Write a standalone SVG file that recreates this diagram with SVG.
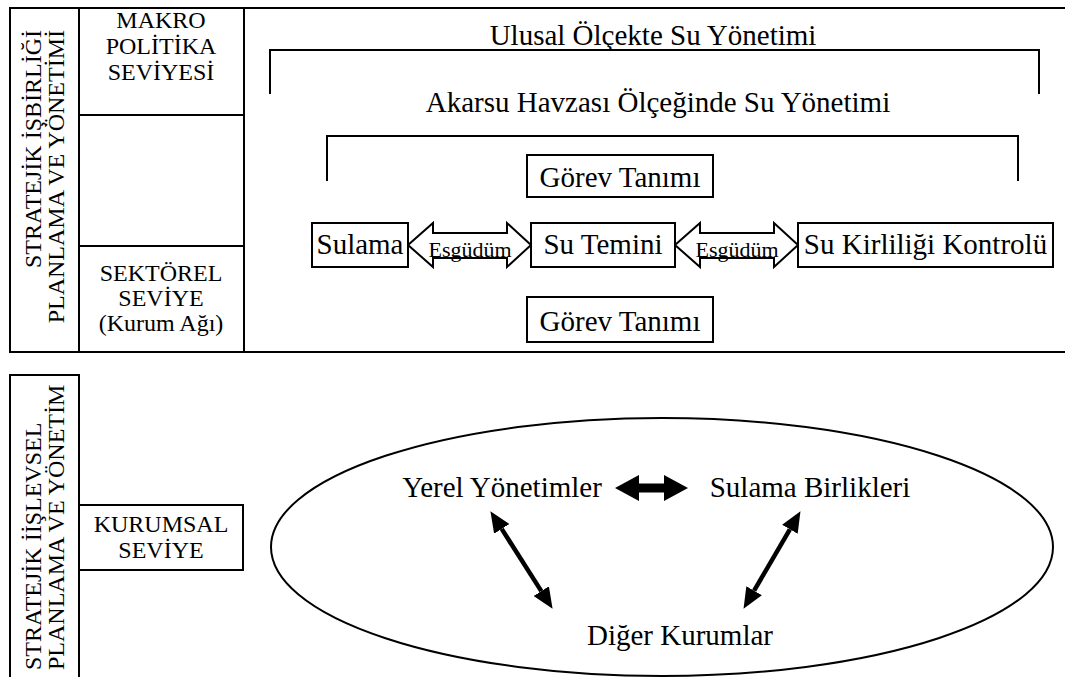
<svg xmlns="http://www.w3.org/2000/svg" width="1065" height="677" viewBox="0 0 1065 677">
<style>
text{font-family:"Liberation Serif","Times New Roman",serif;fill:#000}
.t29{font-size:29px}
.t24{font-size:24px}
.es{font-size:22px}
.mid{text-anchor:middle}
.ln{fill:none;stroke:#000;stroke-width:2}
.box{fill:#fff;stroke:#000;stroke-width:2}
.hollow{fill:#fff;stroke:#000;stroke-width:2;stroke-linejoin:miter}
.fat{fill:none;stroke:#000;stroke-width:4.5}
</style>
<defs>
<marker id="ah" markerUnits="userSpaceOnUse" markerWidth="22" markerHeight="18" refX="0" refY="9" orient="auto-start-reverse">
<path d="M0,0 L21,9 L0,18 z" fill="#000"/>
</marker>
</defs>

<g id="frame-top">
<rect x="10" y="8" width="1070" height="344" class="ln"/>
<line x1="79" y1="8" x2="79" y2="352" class="ln"/>
<line x1="244" y1="8" x2="244" y2="352" class="ln"/>
<line x1="79" y1="115" x2="244" y2="115" class="ln"/>
<line x1="79" y1="246" x2="244" y2="246" class="ln"/>
</g>

<g id="label-isbirligi">
<text class="t24" transform="translate(41,30) rotate(-90)" text-anchor="end">STRATEJİK İŞBİRLİĞİ</text>
<text class="t24" transform="translate(64,30) rotate(-90)" text-anchor="end">PLANLAMA VE YÖNETİMİ</text>
</g>

<g id="makro">
<text class="t24 mid" x="161" y="28">MAKRO</text>
<text class="t24 mid" x="161" y="54">POLİTİKA</text>
<text class="t24 mid" x="161" y="80">SEVİYESİ</text>
</g>

<g id="sektorel">
<text class="t24 mid" x="161" y="281">SEKTÖREL</text>
<text class="t24 mid" x="161" y="306">SEVİYE</text>
<text class="t24 mid" x="161" y="331">(Kurum Ağı)</text>
</g>

<g id="ulusal">
<text class="t29 mid" x="653" y="45">Ulusal Ölçekte Su Yönetimi</text>
<polyline points="270,94 270,50 1039,50 1039,94" class="ln"/>
</g>

<g id="akarsu">
<text class="t29 mid" x="658" y="112">Akarsu Havzası Ölçeğinde Su Yönetimi</text>
<polyline points="327,181 327,136 1018,136 1018,181" class="ln"/>
</g>

<g id="gorev-top">
<rect x="527" y="155" width="186" height="42" class="box"/>
<text class="t29 mid" x="620" y="187">Görev Tanımı</text>
</g>

<g id="connectors">
<polygon class="hollow" points="408,245 433,223 433,233 507,233 507,223 531,245 507,267 507,258 433,258 433,267"/>
<polygon class="hollow" points="675,245 700,223 700,233 774,233 774,223 798,245 774,267 774,258 700,258 700,267"/>
<polygon fill="#000" points="615,488 639,475 639,483.5 664,483.5 664,475 688,488 664,501 664,492.5 639,492.5 639,501"/>
<line class="fat" x1="501.7" y1="528.9" x2="541.3" y2="591.1" marker-start="url(#ah)" marker-end="url(#ah)"/>
<line class="fat" x1="789.9" y1="529.3" x2="754.1" y2="590.7" marker-start="url(#ah)" marker-end="url(#ah)"/>
</g>

<g id="esgudum-labels">
<text class="es mid" x="470" y="257">Esgüdüm</text>
<text class="es mid" x="737" y="257">Esgüdüm</text>
</g>

<g id="sulama">
<rect x="312" y="223" width="96" height="44" class="box"/>
<text class="t29 mid" x="360" y="254">Sulama</text>
</g>

<g id="su-temini">
<rect x="531" y="223" width="144" height="44" class="box"/>
<text class="t29 mid" x="603" y="254">Su Temini</text>
</g>

<g id="kirlilik">
<rect x="798" y="223" width="255" height="44" class="box"/>
<text class="t29 mid" x="925.5" y="254">Su Kirliliği Kontrolü</text>
</g>

<g id="gorev-bottom">
<rect x="527" y="297" width="186" height="45" class="box"/>
<text class="t29 mid" x="620" y="331">Görev Tanımı</text>
</g>

<g id="label-islevsel">
<rect x="10" y="375" width="69" height="320" class="ln"/>
<text class="t24" transform="translate(41,670) rotate(-90)">STRATEJİK İİŞLEVSEL</text>
<text class="t24" transform="translate(64,670) rotate(-90)">PLANLAMA VE YÖNETİM</text>
</g>

<g id="kurumsal">
<rect x="79" y="505" width="164" height="65" class="ln"/>
<text class="t24 mid" x="161" y="532">KURUMSAL</text>
<text class="t24 mid" x="161" y="558">SEVİYE</text>
</g>

<g id="ellipse">
<ellipse cx="662" cy="547" rx="391" ry="129" class="ln"/>
</g>

<g id="yerel">
<text class="t29 mid" x="502" y="497">Yerel Yönetimler</text>
</g>
<g id="birlikler">
<text class="t29 mid" x="810" y="497">Sulama Birlikleri</text>
</g>
<g id="diger">
<text class="t29 mid" x="680" y="645">Diğer Kurumlar</text>
</g>
</svg>
